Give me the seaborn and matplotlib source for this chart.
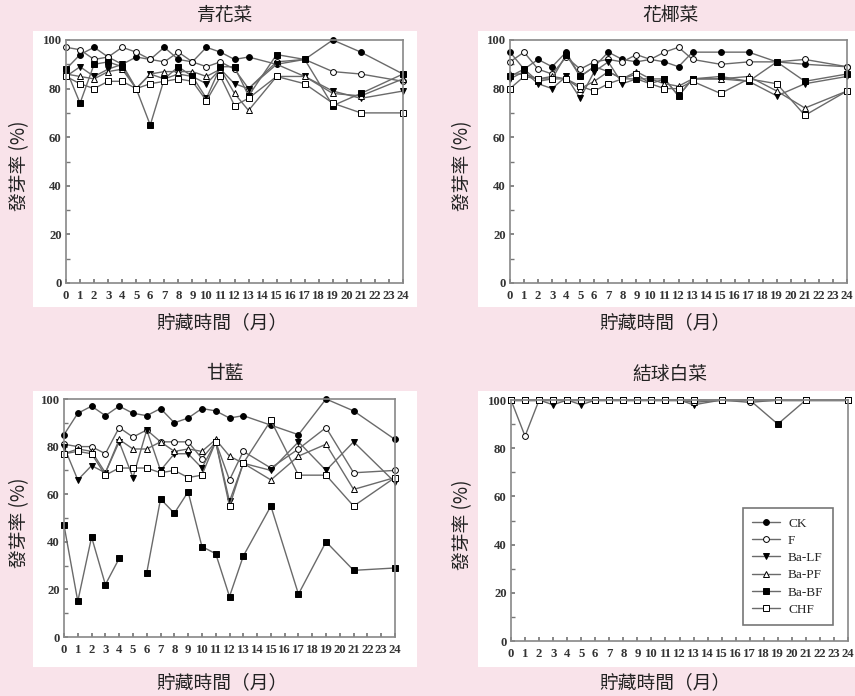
import numpy as np
import pandas as pd
import matplotlib
matplotlib.use("Agg")
import matplotlib.pyplot as plt
from matplotlib.patches import Rectangle
import seaborn as sns

sns.set_theme(style="white")
plt.rcParams['font.family'] = ['Noto Sans CJK TC', 'DejaVu Sans']

nan = np.nan
months = [0, 1, 2, 3, 4, 5, 6, 7, 8, 9, 10, 11, 12, 13, 15, 17, 19, 21, 24]
series = ["CK", "F", "Ba-LF", "Ba-PF", "Ba-BF", "CHF"]

# 青花菜
broc_ck = [88, 94, 97, 93, 90, 93, 92, 97, 92, 91, 97, 95, 92, 93, 90, 92, 100, 95, 86]
broc_f = [97, 96, 92, 93, 97, 95, 92, 91, 95, 91, 89, 91, 88, 80, 91, 92, 87, 86, 83]
broc_lf = [85, 89, 85, 88, 90, 80, 86, 84, 86, 85, 82, 88, 82, 80, 90, 85, 79, 76, 79]
broc_pf = [86, 85, 84, 87, 88, 80, 86, 87, 87, 87, 85, 88, 78, 71, 85, 85, 78, 77, 84]
broc_bf = [88, 74, 90, 91, 89, 80, 65, 84, 89, 85, 76, 89, 89, 77, 94, 92, 73, 78, 86]
broc_chf = [85, 82, 80, 83, 83, 80, 82, 83, 84, 83, 75, 85, 73, 76, 85, 82, 74, 70, 70]

# 花椰菜
caul_ck = [95, 88, 92, 89, 95, 85, 89, 95, 92, 91, 92, 91, 89, 95, 95, 95, 91, 90, 89]
caul_f = [91, 95, 88, 86, 93, 88, 91, 92, 91, 94, 92, 95, 97, 92, 90, 91, 91, 92, 89]
caul_lf = [84, 87, 82, 80, 85, 76, 87, 91, 82, 84, 82, 84, 77, 84, 84, 83, 77, 82, 85]
caul_pf = [86, 86, 84, 85, 84, 80, 83, 87, 84, 87, 84, 82, 81, 84, 84, 85, 79, 72, 79]
caul_bf = [85, 88, 83, 84, 94, 85, 89, 87, 84, 84, 84, 84, 77, 84, 85, 83, 91, 83, 86]
caul_chf = [80, 85, 84, 84, 84, 81, 79, 82, 84, 86, 82, 80, 80, 83, 78, 84, 82, 69, 79]

# 甘藍
cab_ck = [85, 94, 97, 93, 97, 94, 93, 96, 90, 92, 96, 95, 92, 93, 89, 85, 100, 95, 83]
cab_f = [81, 80, 80, 77, 88, 84, 87, 82, 82, 82, 75, 82, 66, 78, 71, 79, 88, 69, 70]
cab_lf = [80, 66, 72, 69, 82, 67, 87, 70, 77, 77, 71, 82, 57, 73, 70, 82, 70, 82, 65]
cab_pf = [77, 79, 78, 69, 83, 79, 79, 82, 78, 79, 78, 83, 76, 73, 66, 76, 81, 62, 67]
cab_bf = [47, 15, 42, 22, 33, nan, 27, 58, 52, 61, 38, 35, 17, 34, 55, 18, 40, 28, 29]
cab_chf = [77, 78, 77, 68, 71, 71, 71, 69, 70, 67, 68, 82, 55, 73, 91, 68, 68, 55, 67]

# 結球白菜
chin_ck = [100, 100, 100, 100, 100, 100, 100, 100, 100, 100, 100, 100, 100, 100, 100, 100, 100, 100, 100]
chin_f = [100, 85, 100, 100, 100, 100, 100, 100, 100, 100, 100, 100, 100, 100, 100, 99, 100, 100, 100]
chin_lf = [100, 100, 100, 98, 100, 98, 100, 100, 100, 100, 100, 100, 100, 98, 100, 100, 100, 100, 100]
chin_pf = [100, 100, 100, 100, 100, 100, 100, 100, 100, 100, 100, 100, 100, 99, 100, 100, 100, 100, 100]
chin_bf = [100, 100, 100, 100, 100, 100, 100, 100, 100, 100, 100, 100, 100, 100, 100, 100, 90, 100, 100]
chin_chf = [100, 100, 100, 100, 100, 100, 100, 100, 100, 100, 100, 100, 100, 100, 100, 100, 100, 100, 100]

panels = [
    ("青花菜", [broc_ck, broc_f, broc_lf, broc_pf, broc_bf, broc_chf]),
    ("花椰菜", [caul_ck, caul_f, caul_lf, caul_pf, caul_bf, caul_chf]),
    ("甘藍", [cab_ck, cab_f, cab_lf, cab_pf, cab_bf, cab_chf]),
    ("結球白菜", [chin_ck, chin_f, chin_lf, chin_pf, chin_bf, chin_chf]),
]

marker_style = {
    "CK": ("o", "black"), "F": ("o", "white"), "Ba-LF": ("v", "black"),
    "Ba-PF": ("^", "white"), "Ba-BF": ("s", "black"), "CHF": ("s", "white"),
}

W, H = 855, 696
pink = "#f9e3ea"
line_gray = "#6a6a6a"

fig = plt.figure(figsize=(W / 100, H / 100), dpi=100, facecolor=pink)

def px_box(x0, y0, x1, y1):
    return [x0 / W, 1 - y1 / H, (x1 - x0) / W, (y1 - y0) / H]

# white panels, axes boxes, text anchors (pixels)
white_boxes = [(33, 31, 417, 307), (478, 31, 855, 307), (33, 391, 417, 667), (478, 391, 855, 667)]
ax_boxes = [(66, 40, 403, 283), (510, 40, 847, 283), (64, 399, 395, 637), (511, 400, 848, 641)]
title_pos = [(225, 15), (670, 15), (225, 374), (670, 374)]
xlab_pos = [(222, 323), (665, 323), (222, 683), (665, 683)]
ylab_pos = [(20, 166), (463, 166), (20, 523), (463, 525)]

for i, (title, vals) in enumerate(panels):
    x0, y0, x1, y1 = white_boxes[i]
    fig.add_artist(Rectangle((x0 / W, 1 - y1 / H), (x1 - x0) / W, (y1 - y0) / H,
                             transform=fig.transFigure, facecolor="white",
                             edgecolor="none", zorder=-1))
    ax = fig.add_axes(px_box(*ax_boxes[i]))
    ax.set_facecolor("white")
    last = i == 3
    for name, v in zip(series, vals):
        df = pd.DataFrame({"month": months, "rate": v})
        df["seg"] = df["rate"].isna().cumsum()
        df = df.dropna()
        mk, fc = marker_style[name]
        kw = dict(label=name) if last else {}
        sns.lineplot(data=df, x="month", y="rate", units="seg", estimator=None,
                     ax=ax, color=line_gray, lw=1.0, marker=mk, markersize=4.2,
                     markerfacecolor=fc, markeredgecolor="black",
                     markeredgewidth=0.7, clip_on=False, legend=False, **kw)
    ax.set_xlim(0, 24)
    ax.set_ylim(0, 100)
    ax.set_xticks(range(25))
    ax.set_xticklabels([str(m) for m in range(25)])
    ax.set_yticks([0, 20, 40, 60, 80, 100])
    ax.set_yticks([10, 30, 50, 70, 90], minor=True)
    ax.tick_params(axis="both", which="both", direction="in", length=3,
                   color="#777777", labelsize=9.2, labelcolor="#333333")
    ax.tick_params(axis="x", pad=5)
    ax.tick_params(axis="y", pad=3, left=True)
    ax.tick_params(axis="y", which="minor", left=True, length=3)
    ax.tick_params(axis="x", bottom=True)
    for lab in ax.get_xticklabels() + ax.get_yticklabels():
        lab.set_fontfamily("Liberation Serif")
        lab.set_fontweight("bold")
    for sp in ax.spines.values():
        sp.set_color("#888888")
        sp.set_linewidth(1.2)
    ax.set_xlabel("")
    ax.set_ylabel("")

    tx, ty = title_pos[i]
    fig.text(tx / W, 1 - ty / H, title, ha="center", va="center", fontsize=13.5, color="#222222")
    lx, ly = xlab_pos[i]
    fig.text(lx / W, 1 - ly / H, "貯藏時間（月）", ha="center", va="center", fontsize=13.5, color="#222222")
    yx, yy = ylab_pos[i]
    fig.text(yx / W, 1 - yy / H, "發芽率 (%)", ha="center", va="center", rotation=90,
             fontsize=13.5, color="#222222")

    if last:
        leg = ax.legend(loc="lower right", bbox_to_anchor=(0.955, 0.066), borderaxespad=0,
                        frameon=True, fancybox=False, handlelength=2.1, labelspacing=0.38,
                        handletextpad=0.6, borderpad=0.7,
                        prop={"family": "Liberation Serif", "size": 9.5})
        leg.get_frame().set_edgecolor("#555555")
        leg.get_frame().set_linewidth(1.2)

fig.savefig("out.png", dpi=100, facecolor=pink)
